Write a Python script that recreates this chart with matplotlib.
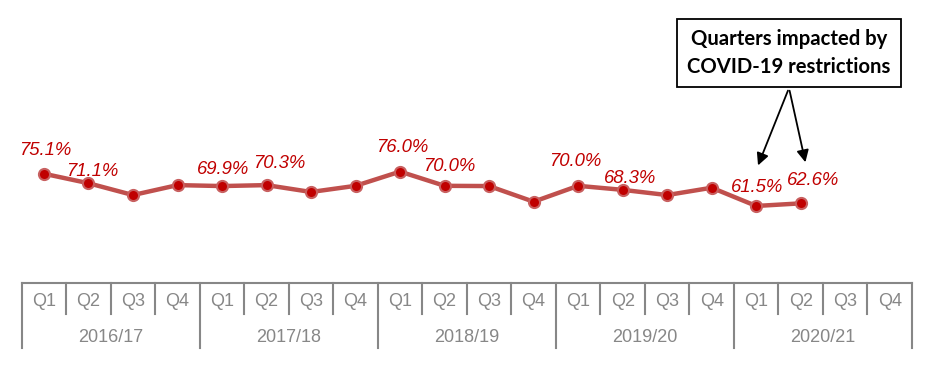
import matplotlib.pyplot as plt
import matplotlib.transforms as mtransforms

# Data
years = ["2016/17", "2017/18", "2018/19", "2019/20", "2020/21"]
quarters = ["Q1", "Q2", "Q3", "Q4"]
values = [75.1, 71.1, 66.1, 70.3,
          69.9, 70.3, 67.4, 70.0,
          76.0, 70.0, 69.9, 63.3,
          70.0, 68.3, 66.1, 69.2,
          61.5, 62.6]
labelled = [0, 1, 4, 5, 8, 9, 12, 13, 16, 17]

# label offsets in pixels (dx, dy)
offsets = {0: (1, 23), 1: (4, 12), 4: (1, 17), 5: (13, 22), 8: (2, 24),
           9: (5, 19), 12: (-3, 24), 13: (7, 11), 16: (1, 18), 17: (12, 23)}

W, H = 931, 375
fig = plt.figure(figsize=(W / 100, H / 100), dpi=100)
ax = fig.add_axes([21.7 / W, (H - 283) / H, (912 - 21.7) / W, 283 / H])

n_q = len(years) * len(quarters)
x = list(range(len(values)))
ax.plot(x, values, color="#C0504D", lw=3.2, zorder=2, solid_capstyle="round")
ax.plot(x, values, ls="none", marker="o", ms=8, mfc="#C00000",
        mec="#C86060", mew=1.5, zorder=3)

for i in labelled:
    dx, dy = offsets[i]
    ax.annotate(f"{values[i]:.1f}%", (x[i], values[i]), xytext=(dx, dy),
                textcoords="offset pixels", ha="center", va="center",
                fontsize=13.3, style="italic", color="#C00000",
                family="Liberation Sans")

ax.set_xlim(-0.5, n_q - 0.5)
ax.set_ylim(29.0, 148.4)
for s in ax.spines.values():
    s.set_visible(False)
ax.set_xticks([])
ax.set_yticks([])

# category axis with two levels
trans = mtransforms.blended_transform_factory(ax.transData, ax.transAxes)
px = 1 / 283  # one pixel in axes fraction
grey = "#878787"
ax.plot([-0.5, n_q - 0.5], [0, 0], color=grey, lw=1.5, transform=trans,
        clip_on=False)
for k in range(n_q + 1):
    if k % 4 == 0:
        bottom = -65 * px
    else:
        bottom = -31 * px
    ax.plot([k - 0.5, k - 0.5], [0, bottom], color=grey, lw=1.5,
            transform=trans, clip_on=False)
for k in range(n_q):
    ax.text(k, -19 * px, quarters[k % 4], transform=trans, ha="center",
            va="center", fontsize=13, color=grey, family="Liberation Sans")
for j, yr in enumerate(years):
    ax.text(j * 4 + 1.5, -54 * px, yr, transform=trans, ha="center",
            va="center", fontsize=13, color=grey, family="Liberation Sans")

# COVID note box with arrows
fig.text(789 / W, (H - 53) / H, "Quarters impacted by\nCOVID-19 restrictions",
         ha="center", va="center", fontsize=14.6, fontweight="bold",
         family="Lato", linespacing=1.5,
         bbox=dict(boxstyle="square,pad=0.5", fc="white", ec="black", lw=1.3))
for tip in [(757, H - 168), (806, H - 165)]:
    ax.annotate("", xy=tip, xycoords="figure pixels",
                xytext=(789, H - 88), textcoords="figure pixels",
                arrowprops=dict(arrowstyle="-|>", color="black", lw=1.3,
                                mutation_scale=18))

fig.savefig("out.png", dpi=100)
